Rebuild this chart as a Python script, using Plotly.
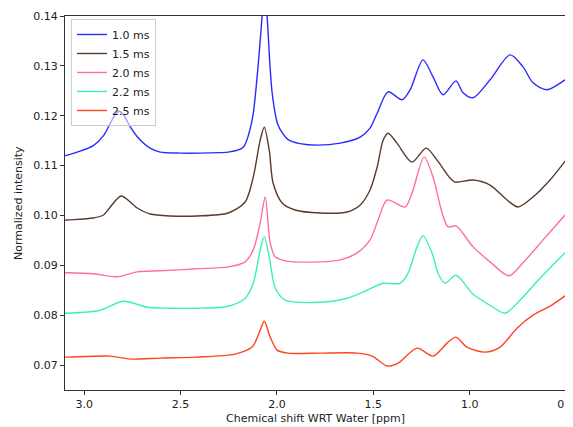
import plotly.graph_objects as go

labels = ["1.0 ms", "1.5 ms", "2.0 ms", "2.2 ms", "2.5 ms"]
colors = ["#2b2bff", "#5b3a2c", "#ff6ea4", "#3cf0b4", "#ff4422"]

x_10 = [3.12, 3.088, 2.953, 2.90, 2.865, 2.84, 2.818, 2.795, 2.765, 2.725, 2.658, 2.606, 2.50, 2.40, 2.30,
        2.253, 2.175, 2.129, 2.103, 2.077, 2.064, 2.051, 2.025, 1.994, 1.942, 1.880, 1.792, 1.672, 1.568,
        1.517, 1.480, 1.423, 1.351, 1.309, 1.242, 1.190, 1.138, 1.071, 1.034, 0.982, 0.894, 0.790, 0.723,
        0.671, 0.599, 0.505, 0.48]
y_10 = [0.1119, 0.1121, 0.1140, 0.1160, 0.1185, 0.1202, 0.1209, 0.1201, 0.1180, 0.1158, 0.1135, 0.1127,
        0.1125, 0.1125, 0.1126, 0.1127, 0.1137, 0.1191, 0.1278, 0.1400, 0.1470, 0.1400, 0.1246, 0.1181,
        0.1152, 0.1144, 0.1141, 0.1145, 0.1157, 0.1175, 0.1205, 0.1248, 0.1232, 0.1252, 0.1312, 0.1278,
        0.1242, 0.1270, 0.1246, 0.1236, 0.1272, 0.1322, 0.1298, 0.1266, 0.1252, 0.1272, 0.1280]

x_15 = [3.12, 3.088, 2.953, 2.90, 2.865, 2.808, 2.725, 2.658, 2.554, 2.414, 2.253, 2.165, 2.123, 2.087,
        2.066, 2.040, 2.020, 1.973, 1.906, 1.776, 1.636, 1.568, 1.517, 1.480, 1.449, 1.423, 1.377, 1.299,
        1.226, 1.169, 1.102, 1.076, 0.982, 0.894, 0.806, 0.749, 0.671, 0.583, 0.50, 0.48]
y_15 = [0.0990, 0.0991, 0.0995, 0.1001, 0.1017, 0.1039, 0.1015, 0.1003, 0.0999, 0.0999, 0.1005, 0.1027,
        0.1077, 0.1151, 0.1177, 0.1131, 0.1065, 0.1025, 0.1011, 0.1005, 0.1007, 0.1021, 0.1051, 0.1097,
        0.1151, 0.1165, 0.1145, 0.1107, 0.1135, 0.1111, 0.1075, 0.1067, 0.1071, 0.1061, 0.1031, 0.1017,
        0.1037, 0.1071, 0.1111, 0.1120]

x_20 = [3.12, 3.088, 2.953, 2.829, 2.725, 2.606, 2.414, 2.253, 2.165, 2.123, 2.087, 2.061, 2.035, 2.009,
        1.957, 1.776, 1.672, 1.584, 1.517, 1.475, 1.428, 1.335, 1.299, 1.236, 1.190, 1.143, 1.112, 1.071,
        0.982, 0.894, 0.796, 0.723, 0.619, 0.50, 0.48]
y_20 = [0.0885, 0.0885, 0.0883, 0.0877, 0.0887, 0.0889, 0.0893, 0.0897, 0.0907, 0.0931, 0.0985, 0.1037,
        0.0945, 0.0917, 0.0909, 0.0907, 0.0911, 0.0925, 0.0951, 0.0991, 0.1031, 0.1017, 0.1045, 0.1117,
        0.1077, 0.1005, 0.0977, 0.0979, 0.0937, 0.0907, 0.0879, 0.0905, 0.0951, 0.1003, 0.1012]

x_22 = [3.12, 3.088, 2.917, 2.798, 2.673, 2.554, 2.424, 2.253, 2.165, 2.123, 2.087, 2.066, 2.040, 2.009,
        1.957, 1.776, 1.636, 1.532, 1.449, 1.361, 1.320, 1.273, 1.242, 1.195, 1.164, 1.128, 1.071, 0.982,
        0.894, 0.816, 0.739, 0.635, 0.50, 0.48]
y_22 = [0.0804, 0.0804, 0.0810, 0.0828, 0.0816, 0.0814, 0.0814, 0.0818, 0.0834, 0.0864, 0.0931, 0.0957,
        0.0917, 0.0855, 0.0830, 0.0826, 0.0834, 0.0850, 0.0864, 0.0864, 0.0884, 0.0937, 0.0959, 0.0925,
        0.0884, 0.0864, 0.0880, 0.0842, 0.0820, 0.0804, 0.0830, 0.0874, 0.0927, 0.0935]

x_25 = [3.12, 3.088, 2.865, 2.761, 2.606, 2.414, 2.217, 2.129, 2.087, 2.066, 2.035, 1.999, 1.942, 1.776,
        1.584, 1.506, 1.428, 1.371, 1.273, 1.190, 1.112, 1.071, 1.014, 0.920, 0.842, 0.754, 0.671, 0.583,
        0.50, 0.48]
y_25 = [0.0716, 0.0716, 0.0718, 0.0712, 0.0714, 0.0716, 0.0722, 0.0736, 0.0770, 0.0788, 0.0756, 0.0730,
        0.0724, 0.0724, 0.0724, 0.0718, 0.0698, 0.0704, 0.0734, 0.0718, 0.0746, 0.0756, 0.0736, 0.0726,
        0.0736, 0.0774, 0.0800, 0.0818, 0.0840, 0.0845]

series = [(x_10, y_10), (x_15, y_15), (x_20, y_20), (x_22, y_22), (x_25, y_25)]

fig = go.Figure()
for (xs, ys), name, c in zip(series, labels, colors):
    fig.add_trace(go.Scatter(x=xs, y=ys, mode="lines", name=name,
                             line=dict(color=c, width=1.4, shape="spline", smoothing=0.8)))

axis_common = dict(showline=True, linecolor="#333333", linewidth=1, mirror=True,
                   ticks="outside", ticklen=4, tickcolor="#333333", showgrid=False,
                   zeroline=False, automargin=False, ticklabeloverflow="allow",
                   tickfont=dict(family="DejaVu Sans", size=11, color="#222222"))

# page body has an 8px default margin, so the figure is sized to fit 573x427 after it
fig.update_layout(
    width=565, height=419,
    margin=dict(l=57, r=7, t=8, b=37),
    paper_bgcolor="white", plot_bgcolor="white",
    font=dict(family="DejaVu Sans", size=11, color="#222222"),
    showlegend=True,
    legend=dict(x=0.012, y=0.992, xanchor="left", yanchor="top",
                bgcolor="rgba(255,255,255,0.55)", bordercolor="#cccccc", borderwidth=1,
                font=dict(family="DejaVu Sans", size=11), tracegroupgap=0, itemwidth=30),
    annotations=[
        dict(text="Chemical shift WRT Water [ppm]", xref="paper", yref="paper", x=0.5, y=0,
             xanchor="center", yanchor="middle", yshift=-28, showarrow=False,
             font=dict(family="DejaVu Sans", size=11, color="#222222")),
        dict(text="Normalized intensity", xref="paper", yref="paper", x=0, y=0.5,
             xanchor="center", yanchor="middle", xshift=-47, textangle=-90, showarrow=False,
             font=dict(family="DejaVu Sans", size=11, color="#222222")),
    ],
)
fig.update_xaxes(range=[3.1, 0.4999], tickvals=[3.0, 2.5, 2.0, 1.5, 1.0, 0.5], tickformat=".1f",
                 **axis_common)
fig.update_yaxes(range=[0.065, 0.14], tickvals=[0.07, 0.08, 0.09, 0.10, 0.11, 0.12, 0.13, 0.14],
                 tickformat=".2f", **axis_common)

fig.write_html("out.html")
